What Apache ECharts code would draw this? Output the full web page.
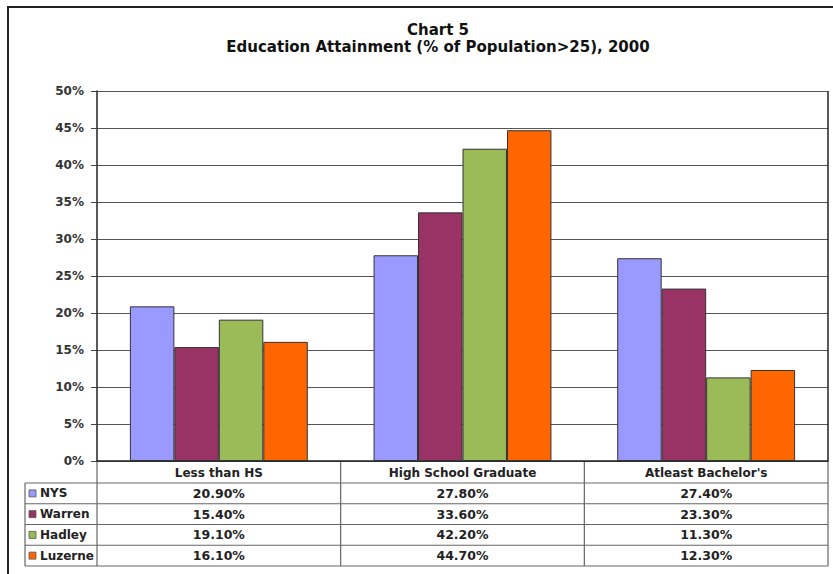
<!DOCTYPE html>
<html>
<head>
<meta charset="utf-8">
<script src="https://cdn.jsdelivr.net/npm/echarts@6/dist/echarts.min.js"></script>
<style>
  html, body { margin: 0; padding: 0; background: #fff; }
  #chart { width: 833px; height: 574px; }
</style>
</head>
<body>
<div id="chart"></div>
<script>
// ---- Data ----
const categories = ['Less than HS', 'High School Graduate', "Atleast Bachelor's"];
const seriesNames = ['NYS', 'Warren', 'Hadley', 'Luzerne'];
const nys = [20.9, 27.8, 27.4];
const warren = [15.4, 33.6, 23.3];
const hadley = [19.1, 42.2, 11.3];
const luzerne = [16.1, 44.7, 12.3];
const seriesValues = [nys, warren, hadley, luzerne];
const colors = ['#9999FF', '#993366', '#9BBB59', '#FF6600'];
const titleText = 'Chart 5';
const subtitleText = 'Education Attainment (% of Population>25), 2000';

const FONT = 'DejaVu Sans';
const chart = echarts.init(document.getElementById('chart'), null, { renderer: 'svg' });

const option = {
  animation: false,
  backgroundColor: '#fff',
  title: {
    text: titleText + '\n' + subtitleText,
    left: 433,
    top: 16,
    textAlign: 'center',
    textStyle: { fontFamily: FONT, fontWeight: 'bold', fontSize: 15, color: '#111', lineHeight: 17 }
  },
  grid: { left: 97, right: 5, top: 91, bottom: 113, containLabel: false },
  xAxis: {
    type: 'category',
    data: categories,
    axisLine: { lineStyle: { color: '#222', width: 1.5 } },
    axisTick: { show: false },
    axisLabel: { margin: 6, fontFamily: FONT, fontWeight: 'bold', fontSize: 12, color: '#222' }
  },
  yAxis: {
    type: 'value',
    min: 0, max: 50, interval: 5,
    axisLine: { show: true, lineStyle: { color: '#222', width: 1.5 } },
    axisTick: { show: true, length: 6, lineStyle: { color: '#444' } },
    axisLabel: { formatter: '{value}%', margin: 13, fontFamily: FONT, fontWeight: 'bold', fontSize: 12, color: '#333' },
    splitLine: { show: true, lineStyle: { color: '#555', width: 1 } }
  },
  series: seriesNames.map((name, i) => ({
    name: name,
    type: 'bar',
    data: seriesValues[i],
    barGap: '0%',
    barCategoryGap: '27%',
    itemStyle: { color: colors[i], borderColor: '#333', borderWidth: 1 }
  }))
};
chart.setOption(option);

// ---- Data table below the plot ----
function buildTable() {
  const centers = categories.map(c => chart.convertToPixel({ xAxisIndex: 0 }, c));
  const cw = centers[1] - centers[0];
  const bounds = [centers[0] - cw / 2].concat(centers.map(c => c + cw / 2));
  const yBase = chart.convertToPixel({ yAxisIndex: 0 }, 0);
  const headerH = 22;
  const rowH = 20.75;
  const rowTop = yBase + headerH;
  const tableBottom = rowTop + rowH * seriesNames.length;
  const legendLeft = 25;
  const lineStyle = { stroke: '#666', lineWidth: 1.2 };
  const els = [];

  // outer frame (extends beyond the right/bottom edges)
  els.push({ type: 'rect', shape: { x: 8, y: 7, width: 840, height: 600 }, style: { fill: 'none', stroke: '#222', lineWidth: 2 }, silent: true });
  // plot right border
  els.push({ type: 'line', shape: { x1: bounds[3], y1: chart.convertToPixel({ yAxisIndex: 0 }, 50), x2: bounds[3], y2: yBase }, style: { stroke: '#222', lineWidth: 1.5 } });

  // vertical lines of the table
  bounds.forEach(x => els.push({ type: 'line', shape: { x1: x, y1: yBase, x2: x, y2: tableBottom }, style: lineStyle }));
  els.push({ type: 'line', shape: { x1: legendLeft, y1: rowTop, x2: legendLeft, y2: tableBottom }, style: lineStyle });
  // horizontal lines
  for (let r = 0; r <= seriesNames.length; r++) {
    const y = rowTop + r * rowH;
    els.push({ type: 'line', shape: { x1: legendLeft, y1: y, x2: bounds[3], y2: y }, style: lineStyle });
  }
  // rows
  seriesNames.forEach((name, r) => {
    const cy = rowTop + r * rowH + rowH / 2;
    els.push({ type: 'rect', shape: { x: legendLeft + 4, y: cy - 3.5, width: 7, height: 7 }, style: { fill: colors[r], stroke: '#555', lineWidth: 0.8 } });
    els.push({ type: 'text', x: legendLeft + 15, y: cy, style: { text: name, fontFamily: FONT, fontWeight: 'bold', fontSize: 12, fill: '#222', textVerticalAlign: 'middle', verticalAlign: 'middle' } });
    seriesValues[r].forEach((v, c) => {
      els.push({ type: 'text', x: centers[c], y: cy, style: { text: v.toFixed(2) + '%', fontFamily: FONT, fontWeight: 'bold', fontSize: 12.5, fill: '#222', align: 'center', textAlign: 'center', verticalAlign: 'middle', textVerticalAlign: 'middle' } });
    });
  });
  chart.setOption({ graphic: { elements: els } });
}
buildTable();
</script>
</body>
</html>
